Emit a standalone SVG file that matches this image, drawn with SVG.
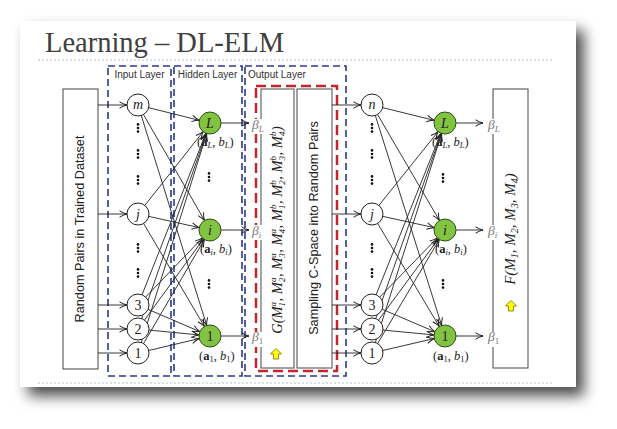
<svg xmlns="http://www.w3.org/2000/svg" width="617" height="429" viewBox="0 0 617 429">
<defs>
<filter id="sh" x="-10%" y="-10%" width="125%" height="130%">
<feDropShadow dx="8" dy="9" stdDeviation="7" flood-color="#000" flood-opacity="0.7"/>
</filter>
<marker id="ah" markerUnits="userSpaceOnUse" markerWidth="22" markerHeight="8" viewBox="0 0 22 8" refX="19" refY="4" orient="auto">
<path d="M0.5,0.8 Q4.5,3.2 8,4 Q4.5,4.8 0.5,7.2" fill="none" stroke="#222" stroke-width="1"/>
</marker>
<marker id="ab" markerUnits="userSpaceOnUse" markerWidth="10" markerHeight="8" viewBox="0 0 10 8" refX="8" refY="4" orient="auto">
<path d="M0.5,0.8 Q4.5,3.2 8,4 Q4.5,4.8 0.5,7.2" fill="none" stroke="#222" stroke-width="1"/>
</marker>
<g id="dots"><circle cx="0" cy="-3.6" r="1.3"/><circle cx="0" cy="0" r="1.3"/><circle cx="0" cy="3.6" r="1.3"/></g>
<path id="yarrow" d="M0,-5.5 L5.5,0 L2.6,0 L2.6,5 L-2.6,5 L-2.6,0 L-5.5,0 Z" fill="#ffff00" stroke="#7a6a00" stroke-width="0.8"/>
</defs>
<style>
.edge{stroke:#222;stroke-width:0.9;fill:none}
.box{fill:#fff;stroke:#444;stroke-width:1}
.gbox{fill:none;stroke:#666;stroke-width:1.2}
.blue{fill:none;stroke:#2b3990;stroke-width:1.6;stroke-dasharray:7 4}
.red{fill:none;stroke:#c1272d;stroke-width:2.5;stroke-dasharray:10 5}
.in{fill:#fff;stroke:#222;stroke-width:1}
.hid{fill:#82c341;stroke:#2d4f16;stroke-width:1}
.lay{font-family:"Liberation Sans",Arial,sans-serif;font-size:10px;fill:#333}
.vt{font-family:"Liberation Sans",Arial,sans-serif;font-size:12.7px;fill:#222}
.m{font-family:"Liberation Serif","Times New Roman",serif;fill:#222}
.it{font-style:italic}
.beta{font-family:"Liberation Serif","Times New Roman",serif;font-style:italic;font-size:13.5px;fill:#777}
.dot{fill:#111}
</style>
<rect width="617" height="429" fill="#fff"/>
<rect x="20" y="21" width="556" height="366" fill="#fff" filter="url(#sh)"/>
<rect x="20" y="21" width="556" height="366" fill="#fff"/>
<text x="45" y="52" font-family="Liberation Serif,'Times New Roman',serif" font-size="28.5" fill="#404040">Learning – DL-ELM</text>
<line x1="38" y1="60" x2="553" y2="60" stroke="#b4c2d0" stroke-width="1" stroke-dasharray="2 2"/>
<line x1="38" y1="383" x2="553" y2="383" stroke="#b4c2d0" stroke-width="1" stroke-dasharray="2 2"/>

<g id="layer-boxes">
<rect class="blue" x="108" y="66" width="63" height="310"/>
<rect class="blue" x="174" y="66" width="68" height="310"/>
<rect class="blue" x="245" y="66" width="101" height="310"/>
<text class="lay" x="139.5" y="78" text-anchor="middle">Input Layer</text>
<text class="lay" x="207.5" y="78" text-anchor="middle">Hidden Layer</text>
<text class="lay" x="248" y="78">Output Layer</text>
</g>

<g id="dataset">
<rect class="box" x="63" y="89" width="35" height="280"/>
<text class="vt" transform="translate(84,229) rotate(-90)" text-anchor="middle">Random Pairs in Trained Dataset</text>
</g>

<g id="output-block">
<rect class="red" x="256" y="86" width="81" height="285"/>
<rect class="gbox" x="261" y="89" width="33" height="279"/>
<rect class="gbox" x="297" y="89" width="35" height="279"/>
<text class="vt" transform="translate(318,228) rotate(-90)" text-anchor="middle">Sampling C-Space into Random Pairs</text>
<text class="m it" font-size="14.5" fill="#555" transform="translate(281.5,230) rotate(-90)" text-anchor="middle">G(M<tspan font-size="9" dy="3">1</tspan><tspan font-size="9" dx="-4.5" dy="-9">a</tspan><tspan dy="6" dx="0.5">, </tspan>M<tspan font-size="9" dy="3">2</tspan><tspan font-size="9" dx="-4.5" dy="-9">a</tspan><tspan dy="6" dx="0.5">, </tspan>M<tspan font-size="9" dy="3">3</tspan><tspan font-size="9" dx="-4.5" dy="-9">a</tspan><tspan dy="6" dx="0.5">, </tspan>M<tspan font-size="9" dy="3">4</tspan><tspan font-size="9" dx="-4.5" dy="-9">a</tspan><tspan dy="6" dx="0.5">, </tspan>M<tspan font-size="9" dy="3">1</tspan><tspan font-size="9" dx="-4.5" dy="-9">b</tspan><tspan dy="6" dx="0.5">, </tspan>M<tspan font-size="9" dy="3">2</tspan><tspan font-size="9" dx="-4.5" dy="-9">b</tspan><tspan dy="6" dx="0.5">, </tspan>M<tspan font-size="9" dy="3">3</tspan><tspan font-size="9" dx="-4.5" dy="-9">b</tspan><tspan dy="6" dx="0.5">, </tspan>M<tspan font-size="9" dy="3">4</tspan><tspan font-size="9" dx="-4.5" dy="-9">b</tspan><tspan dy="6" dx="0.5">)</tspan></text>
<use href="#yarrow" x="276" y="354"/>
</g>

<g id="result-box">
<rect class="box" x="493" y="89" width="35" height="279"/>
<text class="m it" font-size="15" fill="#333" transform="translate(515,229) rotate(-90)" text-anchor="middle">F(M<tspan font-size="10" dy="3">1</tspan><tspan dy="-3">, M</tspan><tspan font-size="10" dy="3">2</tspan><tspan dy="-3">, M</tspan><tspan font-size="10" dy="3">3</tspan><tspan dy="-3">, M</tspan><tspan font-size="10" dy="3">4</tspan><tspan dy="-3">)</tspan></text>
<use href="#yarrow" x="511" y="306"/>
</g>

<g id="connectors">
<line class="edge" x1="98" y1="105" x2="138" y2="105" marker-end="url(#ah)"/>
<line class="edge" x1="98" y1="214" x2="138" y2="214" marker-end="url(#ah)"/>
<line class="edge" x1="98" y1="305" x2="138" y2="305" marker-end="url(#ah)"/>
<line class="edge" x1="98" y1="329" x2="138" y2="329" marker-end="url(#ah)"/>
<line class="edge" x1="98" y1="353" x2="138" y2="353" marker-end="url(#ah)"/>
<line class="edge" x1="138" y1="105" x2="210" y2="123" marker-end="url(#ah)"/>
<line class="edge" x1="138" y1="105" x2="210" y2="230" marker-end="url(#ah)"/>
<line class="edge" x1="138" y1="105" x2="210" y2="336" marker-end="url(#ah)"/>
<line class="edge" x1="138" y1="214" x2="210" y2="123" marker-end="url(#ah)"/>
<line class="edge" x1="138" y1="214" x2="210" y2="230" marker-end="url(#ah)"/>
<line class="edge" x1="138" y1="214" x2="210" y2="336" marker-end="url(#ah)"/>
<line class="edge" x1="138" y1="305" x2="210" y2="123" marker-end="url(#ah)"/>
<line class="edge" x1="138" y1="305" x2="210" y2="230" marker-end="url(#ah)"/>
<line class="edge" x1="138" y1="305" x2="210" y2="336" marker-end="url(#ah)"/>
<line class="edge" x1="138" y1="329" x2="210" y2="123" marker-end="url(#ah)"/>
<line class="edge" x1="138" y1="329" x2="210" y2="230" marker-end="url(#ah)"/>
<line class="edge" x1="138" y1="329" x2="210" y2="336" marker-end="url(#ah)"/>
<line class="edge" x1="138" y1="353" x2="210" y2="123" marker-end="url(#ah)"/>
<line class="edge" x1="138" y1="353" x2="210" y2="230" marker-end="url(#ah)"/>
<line class="edge" x1="138" y1="353" x2="210" y2="336" marker-end="url(#ah)"/>
<line class="edge" x1="221" y1="123" x2="249" y2="123" marker-end="url(#ab)"/>
<line class="edge" x1="221" y1="230" x2="249" y2="230" marker-end="url(#ab)"/>
<line class="edge" x1="221" y1="336" x2="249" y2="336" marker-end="url(#ab)"/>
<line class="edge" x1="332" y1="105" x2="372" y2="105" marker-end="url(#ah)"/>
<line class="edge" x1="332" y1="214" x2="372" y2="214" marker-end="url(#ah)"/>
<line class="edge" x1="332" y1="305" x2="372" y2="305" marker-end="url(#ah)"/>
<line class="edge" x1="332" y1="329" x2="372" y2="329" marker-end="url(#ah)"/>
<line class="edge" x1="332" y1="353" x2="372" y2="353" marker-end="url(#ah)"/>
<line class="edge" x1="372" y1="105" x2="445" y2="123" marker-end="url(#ah)"/>
<line class="edge" x1="372" y1="105" x2="445" y2="230" marker-end="url(#ah)"/>
<line class="edge" x1="372" y1="105" x2="445" y2="336" marker-end="url(#ah)"/>
<line class="edge" x1="372" y1="214" x2="445" y2="123" marker-end="url(#ah)"/>
<line class="edge" x1="372" y1="214" x2="445" y2="230" marker-end="url(#ah)"/>
<line class="edge" x1="372" y1="214" x2="445" y2="336" marker-end="url(#ah)"/>
<line class="edge" x1="372" y1="305" x2="445" y2="123" marker-end="url(#ah)"/>
<line class="edge" x1="372" y1="305" x2="445" y2="230" marker-end="url(#ah)"/>
<line class="edge" x1="372" y1="305" x2="445" y2="336" marker-end="url(#ah)"/>
<line class="edge" x1="372" y1="329" x2="445" y2="123" marker-end="url(#ah)"/>
<line class="edge" x1="372" y1="329" x2="445" y2="230" marker-end="url(#ah)"/>
<line class="edge" x1="372" y1="329" x2="445" y2="336" marker-end="url(#ah)"/>
<line class="edge" x1="372" y1="353" x2="445" y2="123" marker-end="url(#ah)"/>
<line class="edge" x1="372" y1="353" x2="445" y2="230" marker-end="url(#ah)"/>
<line class="edge" x1="372" y1="353" x2="445" y2="336" marker-end="url(#ah)"/>
<line class="edge" x1="456" y1="123" x2="483" y2="123" marker-end="url(#ab)"/>
<line class="edge" x1="456" y1="230" x2="483" y2="230" marker-end="url(#ab)"/>
<line class="edge" x1="456" y1="336" x2="483" y2="336" marker-end="url(#ab)"/>
</g>

<g id="beta-left">
<rect x="251" y="119" width="16" height="15" fill="#fff"/>
<rect x="251" y="225" width="14" height="15" fill="#fff"/>
<rect x="251" y="332" width="14" height="15" fill="#fff"/>
<text class="beta" x="252" y="129">β<tspan font-size="9" dy="3">L</tspan></text>
<text class="beta" x="252" y="235">β<tspan font-size="9" dy="3">i</tspan></text>
<text class="beta" x="252" y="341">β<tspan font-size="9" dy="3" font-style="normal">1</tspan></text>
</g>
<g id="beta-right">
<rect x="487" y="119" width="16" height="15" fill="#fff"/>
<rect x="487" y="225" width="14" height="15" fill="#fff"/>
<rect x="487" y="332" width="14" height="15" fill="#fff"/>
<text class="beta" x="488" y="129">β<tspan font-size="9" dy="3">L</tspan></text>
<text class="beta" x="488" y="235">β<tspan font-size="9" dy="3">i</tspan></text>
<text class="beta" x="488" y="341">β<tspan font-size="9" dy="3" font-style="normal">1</tspan></text>
</g>

<g id="in1-m"><circle class="in" cx="138" cy="105" r="11"/><text class="m it" x="138" y="109" font-size="14" text-anchor="middle">m</text></g>
<g id="in1-j"><circle class="in" cx="138" cy="214" r="11"/><text class="m it" x="138" y="218.5" font-size="14" text-anchor="middle">j</text></g>
<g id="in1-3"><circle class="in" cx="138" cy="305" r="11"/><text class="m" x="138" y="310" font-size="14" text-anchor="middle">3</text></g>
<g id="in1-2"><circle class="in" cx="138" cy="329" r="11"/><text class="m" x="138" y="334" font-size="14" text-anchor="middle">2</text></g>
<g id="in1-1"><circle class="in" cx="138" cy="353" r="11"/><text class="m" x="138" y="358" font-size="14" text-anchor="middle">1</text></g>
<g id="in1-dots" class="dot">
<use href="#dots" x="138" y="128"/><use href="#dots" x="138" y="154"/><use href="#dots" x="138" y="180"/>
<use href="#dots" x="138" y="248"/><use href="#dots" x="138" y="273"/>
</g>

<g id="hid1-L"><circle class="hid" cx="210" cy="123" r="11"/><text class="m it" x="210" y="128" font-size="14" text-anchor="middle">L</text>
<text class="m" x="197" y="145.5" font-size="12.5">(<tspan font-weight="bold">a</tspan><tspan font-size="8.5" font-style="italic" dy="2.5">L</tspan><tspan dy="-2.5">, </tspan><tspan font-style="italic">b</tspan><tspan font-size="8.5" font-style="italic" dy="2.5">L</tspan><tspan dy="-2.5">)</tspan></text></g>
<g id="hid1-i"><circle class="hid" cx="210" cy="230" r="11"/><text class="m it" x="210" y="235" font-size="14" text-anchor="middle">i</text>
<text class="m" x="200" y="252.5" font-size="12.5">(<tspan font-weight="bold">a</tspan><tspan font-size="8.5" font-style="italic" dy="2.5">i</tspan><tspan dy="-2.5">, </tspan><tspan font-style="italic">b</tspan><tspan font-size="8.5" font-style="italic" dy="2.5">i</tspan><tspan dy="-2.5">)</tspan></text></g>
<g id="hid1-1"><circle class="hid" cx="210" cy="336" r="11"/><text class="m" x="210" y="341" font-size="14" text-anchor="middle">1</text>
<text class="m" x="199" y="359.5" font-size="12.5">(<tspan font-weight="bold">a</tspan><tspan font-size="8.5" dy="2.5">1</tspan><tspan dy="-2.5">, </tspan><tspan font-style="italic">b</tspan><tspan font-size="8.5" dy="2.5">1</tspan><tspan dy="-2.5">)</tspan></text></g>
<g id="hid1-dots" class="dot"><use href="#dots" x="209" y="177"/><use href="#dots" x="209" y="284"/></g>

<g id="in2-n"><circle class="in" cx="372" cy="105" r="11"/><text class="m it" x="372" y="109" font-size="14" text-anchor="middle">n</text></g>
<g id="in2-j"><circle class="in" cx="372" cy="214" r="11"/><text class="m it" x="372" y="218.5" font-size="14" text-anchor="middle">j</text></g>
<g id="in2-3"><circle class="in" cx="372" cy="305" r="11"/><text class="m" x="372" y="310" font-size="14" text-anchor="middle">3</text></g>
<g id="in2-2"><circle class="in" cx="372" cy="329" r="11"/><text class="m" x="372" y="334" font-size="14" text-anchor="middle">2</text></g>
<g id="in2-1"><circle class="in" cx="372" cy="353" r="11"/><text class="m" x="372" y="358" font-size="14" text-anchor="middle">1</text></g>
<g id="in2-dots" class="dot">
<use href="#dots" x="372" y="128"/><use href="#dots" x="372" y="154"/><use href="#dots" x="372" y="180"/>
<use href="#dots" x="372" y="248"/><use href="#dots" x="372" y="273"/>
</g>

<g id="hid2-L"><circle class="hid" cx="445" cy="123" r="11"/><text class="m it" x="445" y="128" font-size="14" text-anchor="middle">L</text>
<text class="m" x="432" y="145.5" font-size="12.5">(<tspan font-weight="bold">a</tspan><tspan font-size="8.5" font-style="italic" dy="2.5">L</tspan><tspan dy="-2.5">, </tspan><tspan font-style="italic">b</tspan><tspan font-size="8.5" font-style="italic" dy="2.5">L</tspan><tspan dy="-2.5">)</tspan></text></g>
<g id="hid2-i"><circle class="hid" cx="445" cy="230" r="11"/><text class="m it" x="445" y="235" font-size="14" text-anchor="middle">i</text>
<text class="m" x="435" y="252.5" font-size="12.5">(<tspan font-weight="bold">a</tspan><tspan font-size="8.5" font-style="italic" dy="2.5">i</tspan><tspan dy="-2.5">, </tspan><tspan font-style="italic">b</tspan><tspan font-size="8.5" font-style="italic" dy="2.5">i</tspan><tspan dy="-2.5">)</tspan></text></g>
<g id="hid2-1"><circle class="hid" cx="445" cy="336" r="11"/><text class="m" x="445" y="341" font-size="14" text-anchor="middle">1</text>
<text class="m" x="433" y="359.5" font-size="12.5">(<tspan font-weight="bold">a</tspan><tspan font-size="8.5" dy="2.5">1</tspan><tspan dy="-2.5">, </tspan><tspan font-style="italic">b</tspan><tspan font-size="8.5" dy="2.5">1</tspan><tspan dy="-2.5">)</tspan></text></g>
<g id="hid2-dots" class="dot"><use href="#dots" x="443" y="178"/><use href="#dots" x="443" y="284"/></g>
</svg>
